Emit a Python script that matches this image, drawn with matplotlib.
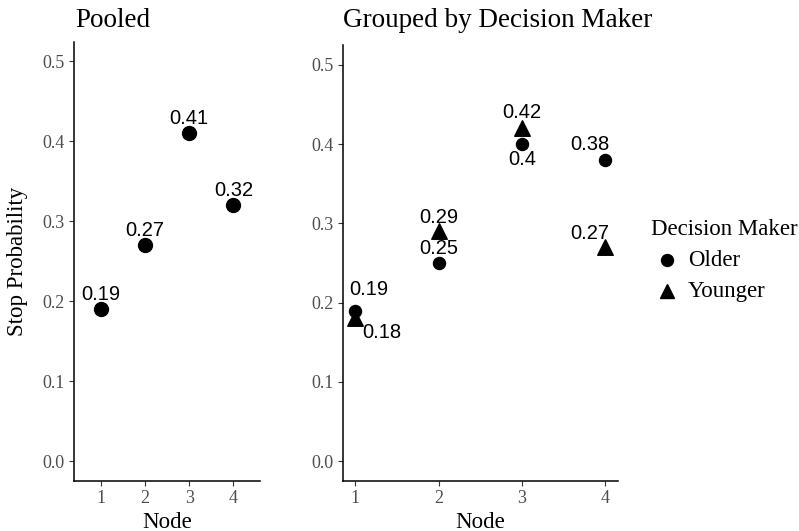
import matplotlib
matplotlib.use("Agg")
from matplotlib import pyplot as plt
from matplotlib.lines import Line2D

# data
nodes = [1, 2, 3, 4]
pooled = [0.19, 0.27, 0.41, 0.32]
older = [0.19, 0.25, 0.40, 0.38]
younger = [0.18, 0.29, 0.42, 0.27]
older_lbl = ["0.19", "0.25", "0.4", "0.38"]
younger_lbl = ["0.18", "0.29", "0.42", "0.27"]
pooled_lbl = ["0.19", "0.27", "0.41", "0.32"]
groups = ["Older", "Younger"]

# label offsets in pixels (dx, dy) - hand nudged like the original
older_off = [(14, 21), (0, 14), (0, -15), (-16, 15)]
younger_off = [(27, -14), (0, 14), (0, 16), (-16, 14)]

serif = ["Liberation Serif", "DejaVu Serif"]
sans = ["Liberation Sans", "DejaVu Sans"]
W, H = 799, 531

fig = plt.figure(figsize=(W / 100, H / 100), dpi=100)


def px_axes(l, t, r, b):
    return fig.add_axes([l / W, 1 - b / H, (r - l) / W, (b - t) / H])


def style(ax):
    for s in ["top", "right"]:
        ax.spines[s].set_visible(False)
    for s in ["left", "bottom"]:
        ax.spines[s].set_linewidth(1.1)
    ax.tick_params(length=3.5, width=0.8, color="#333333", labelcolor="#4d4d4d",
                   labelsize=13, pad=3)
    ax.set_ylim(-0.025, 0.525)
    ax.set_yticks([0, 0.1, 0.2, 0.3, 0.4, 0.5])
    ax.set_yticklabels(["0.0", "0.1", "0.2", "0.3", "0.4", "0.5"], family=serif)
    ax.set_xticks(nodes)
    ax.set_xticklabels([str(n) for n in nodes], family=serif)


ax1 = px_axes(74, 41.5, 260, 481)
ax1.scatter(nodes, pooled, s=100, color="black", marker="o", zorder=3)
for x, y, t in zip(nodes, pooled, pooled_lbl):
    ax1.annotate(t, (x, y), xytext=(0, 15), textcoords="offset pixels",
                 ha="center", va="center", fontsize=14.5, family=sans)
ax1.set_xlim(0.4, 4.6)
style(ax1)

ax2 = px_axes(342.5, 45, 618, 481)
ax2.scatter(nodes, older, s=75, color="black", marker="o", zorder=3)
ax2.scatter(nodes, younger, s=125, color="black", marker="^", zorder=3)
for x, y, t, o in zip(nodes, older, older_lbl, older_off):
    ax2.annotate(t, (x, y), xytext=o, textcoords="offset pixels",
                 ha="center", va="center", fontsize=14.5, family=sans)
for x, y, t, o in zip(nodes, younger, younger_lbl, younger_off):
    ax2.annotate(t, (x, y), xytext=o, textcoords="offset pixels",
                 ha="center", va="center", fontsize=14.5, family=sans)
ax2.set_xlim(0.85, 4.15)
style(ax2)

# titles and axis labels
fig.text(75 / W, 1 - 27 / H, "Pooled", fontsize=19.5, family=serif, va="baseline")
fig.text(343 / W, 1 - 27 / H, "Grouped by Decision Maker", fontsize=19.5,
         family=serif, va="baseline")
fig.text(167 / W, 1 - 528 / H, "Node", fontsize=16.5, family=serif,
         ha="center", va="baseline")
fig.text(480 / W, 1 - 528 / H, "Node", fontsize=16.5, family=serif,
         ha="center", va="baseline")
fig.text(18 / W, 1 - 261 / H, "Stop Probability", fontsize=16.5, family=serif,
         rotation=90, ha="center", va="center")

# legend, placed by hand
fig.text(651 / W, 1 - 235 / H, "Decision Maker", fontsize=16.5, family=serif,
         va="baseline")
leg_y = [260, 291]
leg_marker = ["o", "^"]
leg_size = [8.6, 10.5]
for g, yy, m, ms in zip(groups, leg_y, leg_marker, leg_size):
    fig.add_artist(Line2D([667 / W], [1 - yy / H], marker=m, ls="none",
                          color="black", markersize=ms,
                          transform=fig.transFigure))
    fig.text(688 / W, 1 - (yy + 6) / H, g, fontsize=16.5, family=serif,
             va="baseline")

fig.savefig("out.png", dpi=100)
